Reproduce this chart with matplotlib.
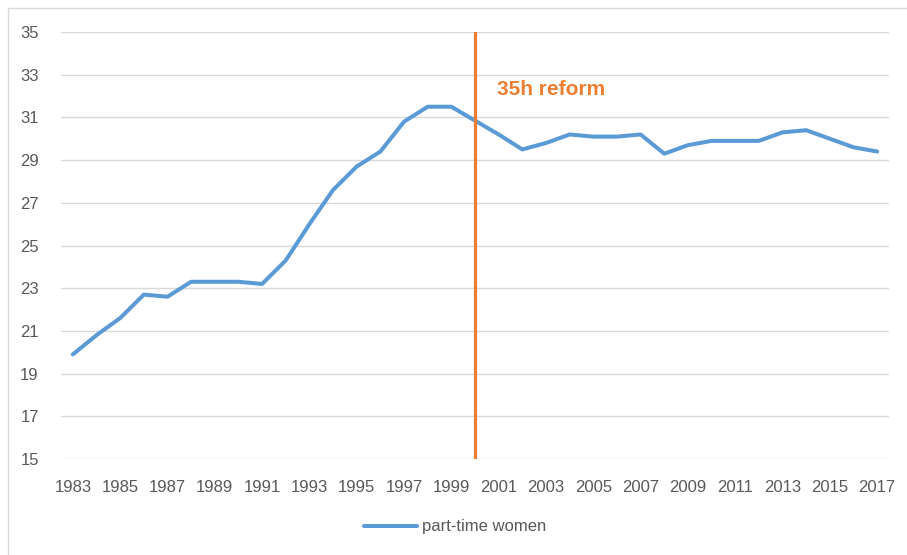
import numpy as np
import matplotlib.pyplot as plt
from matplotlib.patches import Rectangle

years = list(range(1983, 2018))
part_time_women = [19.9, 20.8, 21.6, 22.7, 22.6, 23.3, 23.3, 23.3, 23.2, 24.3,
                   26.0, 27.6, 28.7, 29.4, 30.8, 31.5, 31.5, 30.85, 30.2, 29.5,
                   29.8, 30.2, 30.1, 30.1, 30.2, 29.3, 29.7, 29.9, 29.9, 29.9,
                   30.3, 30.4, 30.0, 29.6, 29.4]
reform_year = 2000
reform_label = '35h reform'
series_name = 'part-time women'

blue = '#5B9BD5'
orange = '#ED7D31'
grey = '#595959'

plt.rcParams['font.family'] = ['Liberation Sans', 'DejaVu Sans']

fig = plt.figure(figsize=(9.07, 5.55), dpi=100)
ax = fig.add_axes([61/907, 1 - 459/555, (889 - 61)/907, (459 - 32)/555])

# chart border like excel (right and bottom edges fall outside the picture)
fig.patches.append(Rectangle((8/907, -20/555), 930/907, 567/555, transform=fig.transFigure,
                             fill=False, edgecolor='#D9D9D9', lw=1))

ax.plot(years, part_time_women, color=blue, lw=2.9, solid_capstyle='round',
        solid_joinstyle='round', label=series_name, zorder=3)
ax.plot([reform_year, reform_year], [15, 35], color=orange, lw=2.3, zorder=4)
ax.text(reform_year + 0.93, 32.33, reform_label, color=orange, fontsize=15,
        fontweight='bold', ha='left', va='center')

ax.set_xlim(1982.5, 2017.5)
ax.set_ylim(15, 35)
ax.set_yticks(np.arange(15, 36, 2))
ax.set_xticks(years[::2])
ax.grid(axis='y', color='#D9D9D9', lw=1)
ax.set_axisbelow(True)
for s in ax.spines.values():
    s.set_visible(False)
ax.tick_params(length=0, labelsize=12, colors=grey)
ax.tick_params(axis='x', pad=15)
ax.tick_params(axis='y', pad=16)

fig.legend(handles=ax.get_lines()[:1], loc='center', bbox_to_anchor=(455/907, 1 - 527/555),
           frameon=False, fontsize=12, labelcolor=grey, handlelength=3.2, handletextpad=0.3)

fig.savefig('out.png', dpi=100)
